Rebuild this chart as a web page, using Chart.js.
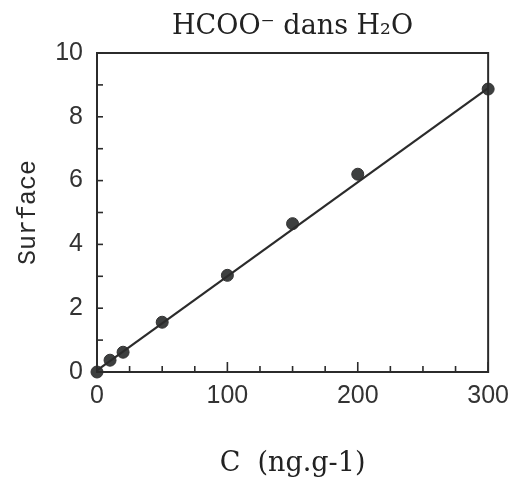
<!DOCTYPE html>
<html>
<head>
<meta charset="utf-8">
<script src="https://cdn.jsdelivr.net/npm/chart.js@4"></script>
<style>
  html, body { margin: 0; padding: 0; background: #fff; }
  #wrap { width: 518px; height: 477px; position: relative; }
</style>
</head>
<body>
<div id="wrap"><canvas id="surfaceChart"></canvas></div>
<script>
// calibration points
const concentrations = [0, 10, 20, 50, 100, 150, 200, 300];
const surfaces = [0, 0.37, 0.62, 1.56, 3.03, 4.65, 6.2, 8.87];

// regression line end points
const fitX = [0, 300];
const fitY = [0.05, 8.9];

const xTickLabels = [0, 100, 200, 300];
const yTickLabels = [0, 2, 4, 6, 8, 10];

const ink = '#2b2b2b';

// frame + inward tick marks
const frameTicks = {
    id: 'frameTicks',
    afterDraw(chart) {
        const { ctx, chartArea: a, scales } = chart;
        ctx.save();
        ctx.strokeStyle = ink;
        ctx.lineWidth = 2;
        ctx.strokeRect(a.left, a.top, a.right - a.left, a.bottom - a.top);
        ctx.lineWidth = 1.6;
        scales.x.ticks.forEach((t) => {
            const px = scales.x.getPixelForValue(t.value);
            const len = xTickLabels.includes(t.value) ? 10 : 6;
            ctx.beginPath();
            ctx.moveTo(px, a.bottom);
            ctx.lineTo(px, a.bottom - len);
            ctx.stroke();
        });
        scales.y.ticks.forEach((t) => {
            const py = scales.y.getPixelForValue(t.value);
            ctx.beginPath();
            ctx.moveTo(a.left, py);
            ctx.lineTo(a.left + 6, py);
            ctx.stroke();
        });
        ctx.restore();
    }
};

new Chart(document.getElementById('surfaceChart'), {
    type: 'scatter',
    data: {
        datasets: [
            {
                label: 'fit',
                data: fitX.map((x, i) => ({ x: x, y: fitY[i] })),
                showLine: true,
                borderColor: ink,
                borderWidth: 2.2,
                pointRadius: 0,
                fill: false,
                clip: false
            },
            {
                label: 'HCOO-',
                data: concentrations.map((c, i) => ({ x: c, y: surfaces[i] })),
                backgroundColor: '#3d3f3f',
                borderColor: '#333',
                borderWidth: 1,
                pointRadius: 6,
                clip: false
            }
        ]
    },
    options: {
        responsive: true,
        maintainAspectRatio: false,
        animation: false,
        layout: { padding: { left: 0, right: 26, top: 0, bottom: 0 } },
        plugins: {
            legend: { display: false },
            tooltip: { enabled: false },
            title: {
                display: true,
                fullSize: false,
                text: 'HCOO\u207B dans H\u2082O',
                color: '#222',
                font: { family: 'DejaVu Serif', size: 27, weight: 'normal', lineHeight: 1.2 },
                padding: { top: 11, bottom: 9.6 }
            }
        },
        scales: {
            x: {
                type: 'linear',
                min: 0,
                max: 300,
                border: { display: false },
                grid: { display: false, drawTicks: false },
                ticks: {
                    stepSize: 25,
                    autoSkip: false,
                    maxRotation: 0,
                    padding: 9,
                    color: '#333',
                    font: { family: 'Liberation Sans', size: 25 },
                    callback: (v) => (xTickLabels.includes(v) ? String(v) : '')
                },
                title: {
                    display: true,
                    text: 'C  (ng.g-1)',
                    color: '#222',
                    font: { family: 'DejaVu Serif', size: 27, lineHeight: 1 },
                    padding: 0
                },
                afterFit: (scale) => { scale.height = 105; }
            },
            y: {
                type: 'linear',
                min: 0,
                max: 10,
                border: { display: false },
                grid: { display: false, drawTicks: false },
                ticks: {
                    stepSize: 1,
                    autoSkip: false,
                    padding: 14,
                    color: '#333',
                    font: { family: 'Liberation Sans', size: 25 },
                    callback: (v) => (yTickLabels.includes(v) ? String(v) : '')
                },
                title: {
                    display: true,
                    text: 'Surface',
                    color: '#2a2a2a',
                    font: { family: 'Liberation Mono', size: 25, lineHeight: 1 },
                    padding: { top: 16, bottom: 0 }
                },
                afterFit: (scale) => { scale.width = 97; }
            }
        }
    },
    plugins: [frameTicks]
});
</script>
</body>
</html>
